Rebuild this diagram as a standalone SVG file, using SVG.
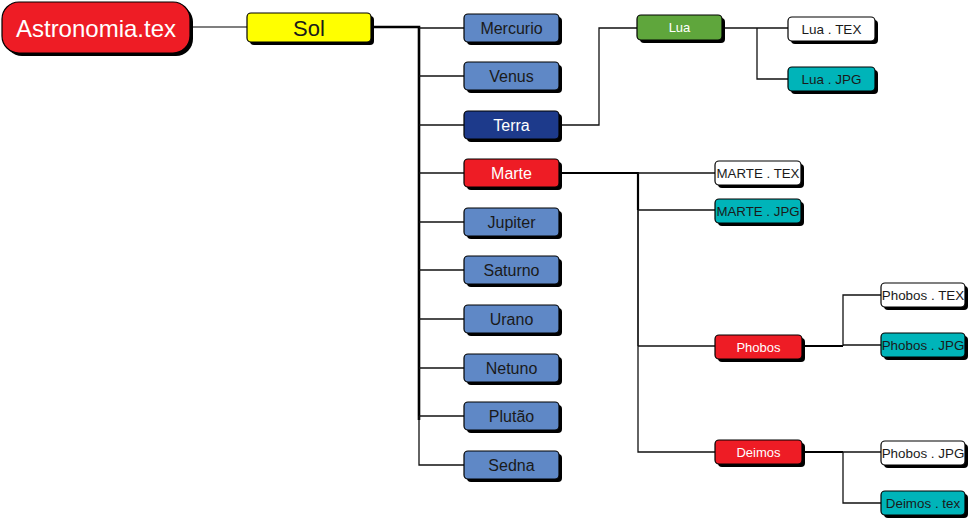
<svg xmlns="http://www.w3.org/2000/svg" width="972" height="520" viewBox="0 0 972 520">
<defs>
<style>
.sh{fill:#000}
.bx{stroke:#000;stroke-width:1.2}
.t{font-family:"Liberation Sans",Arial,sans-serif;text-anchor:middle;dominant-baseline:central}
.dk{fill:#1a1a1a}
.wt{fill:#fff}
.planet{fill:#5f88c6}
.red{fill:#ee1c25}
.teal{fill:#00b4b9}
.white{fill:#fff}
.e{fill:none;stroke:#111;stroke-width:1.3}
.eg{fill:none;stroke:#555;stroke-width:1.3}
.tk{fill:none;stroke:#000;stroke-width:2.6}
</style>
</defs>
<g id="connectors">
<path class="eg" d="M190,27 H247"/>
<path class="tk" d="M371,27 H419 V420"/>
<path class="e" d="M419,28 H464"/>
<path class="e" d="M419,76 H464"/>
<path class="e" d="M419,125 H464"/>
<path class="e" d="M419,173 H464"/>
<path class="e" d="M419,222 H464"/>
<path class="e" d="M419,270 H464"/>
<path class="e" d="M419,319 H464"/>
<path class="e" d="M419,368 H464"/>
<path class="e" d="M419,416 H464"/>
<path class="e" d="M419,416 V465 H464"/>
<path class="e" d="M559,125 H599 V28 H637"/>
<path class="e" d="M722,28 H757 H788"/>
<path class="e" d="M757,28 V79 H788"/>
<path class="tk" style="stroke-width:2.2" d="M559,173 H638 V210"/>
<path class="e" style="stroke-width:1.7" d="M638,210 V346"/>
<path class="e" d="M638,173 H715"/>
<path class="e" d="M638,210 H715"/>
<path class="e" d="M638,346 V452 H715"/>
<path class="e" d="M638,346 H715"/>
<path class="tk" style="stroke-width:2" d="M802,346 H843"/>
<path class="e" d="M843,346 V295 H881"/>
<path class="e" d="M843,345 H881"/>
<path class="tk" style="stroke-width:2" d="M802,452 H843"/>
<path class="e" d="M843,452 H881"/>
<path class="e" d="M843,452 V503 H881"/>
</g>
<g id="astronomia">
<rect class="sh" x="5" y="5" width="188" height="51" rx="17"/>
<rect class="bx red" x="2" y="2" width="188" height="51" rx="17"/>
<text class="t wt" x="96" y="28" font-size="24">Astronomia.tex</text>
</g>
<g id="sol">
<rect class="sh" x="250" y="16" width="124" height="29" rx="4"/>
<rect class="bx" fill="#ffff00" x="247" y="13" width="124" height="29" rx="4"/>
<text class="t dk" x="309" y="28" font-size="22">Sol</text>
</g>
<g id="mercurio">
<rect class="sh" x="467" y="17" width="95" height="28" rx="4"/>
<rect class="bx planet" x="464" y="14" width="95" height="28" rx="4"/>
<text class="t dk" x="511.5" y="28" font-size="16">Mercurio</text>
</g>
<g id="venus">
<rect class="sh" x="467" y="65" width="95" height="28" rx="4"/>
<rect class="bx planet" x="464" y="62" width="95" height="28" rx="4"/>
<text class="t dk" x="511.5" y="76" font-size="16">Venus</text>
</g>
<g id="terra">
<rect class="sh" x="467" y="114" width="95" height="28" rx="4"/>
<rect class="bx" fill="#1d3a8b" x="464" y="111" width="95" height="28" rx="4"/>
<text class="t wt" x="511.5" y="125" font-size="16">Terra</text>
</g>
<g id="marte">
<rect class="sh" x="467" y="162" width="95" height="28" rx="4"/>
<rect class="bx red" x="464" y="159" width="95" height="28" rx="4"/>
<text class="t wt" x="511.5" y="173" font-size="16">Marte</text>
</g>
<g id="jupiter">
<rect class="sh" x="467" y="211" width="95" height="28" rx="4"/>
<rect class="bx planet" x="464" y="208" width="95" height="28" rx="4"/>
<text class="t dk" x="511.5" y="222" font-size="16">Jupiter</text>
</g>
<g id="saturno">
<rect class="sh" x="467" y="259" width="95" height="28" rx="4"/>
<rect class="bx planet" x="464" y="256" width="95" height="28" rx="4"/>
<text class="t dk" x="511.5" y="270" font-size="16">Saturno</text>
</g>
<g id="urano">
<rect class="sh" x="467" y="308" width="95" height="28" rx="4"/>
<rect class="bx planet" x="464" y="305" width="95" height="28" rx="4"/>
<text class="t dk" x="511.5" y="319" font-size="16">Urano</text>
</g>
<g id="netuno">
<rect class="sh" x="467" y="357" width="95" height="28" rx="4"/>
<rect class="bx planet" x="464" y="354" width="95" height="28" rx="4"/>
<text class="t dk" x="511.5" y="368" font-size="16">Netuno</text>
</g>
<g id="plutao">
<rect class="sh" x="467" y="405" width="95" height="28" rx="4"/>
<rect class="bx planet" x="464" y="402" width="95" height="28" rx="4"/>
<text class="t dk" x="511.5" y="416" font-size="16">Plutão</text>
</g>
<g id="sedna">
<rect class="sh" x="467" y="454" width="95" height="28" rx="4"/>
<rect class="bx planet" x="464" y="451" width="95" height="28" rx="4"/>
<text class="t dk" x="511.5" y="465" font-size="16">Sedna</text>
</g>
<g id="lua">
<rect class="sh" x="640" y="18" width="85" height="25" rx="4"/>
<rect class="bx" fill="#5fa63c" x="637" y="15" width="85" height="25" rx="4"/>
<text class="t wt" x="679.5" y="27.5" font-size="13">Lua</text>
</g>
<g id="lua-tex">
<rect class="sh" x="791" y="20" width="87" height="24" rx="4"/>
<rect class="bx white" x="788" y="17" width="87" height="24" rx="4"/>
<text class="t dk" x="831.5" y="29" font-size="13.5">Lua . TEX</text>
</g>
<g id="lua-jpg">
<rect class="sh" x="791" y="70" width="87" height="24" rx="4"/>
<rect class="bx teal" x="788" y="67" width="87" height="24" rx="4"/>
<text class="t dk" x="831.5" y="79" font-size="13.5">Lua . JPG</text>
</g>
<g id="marte-tex">
<rect class="sh" x="718" y="164" width="86" height="24" rx="4"/>
<rect class="bx white" x="715" y="161" width="86" height="24" rx="4"/>
<text class="t dk" x="758" y="173" font-size="13.3">MARTE . TEX</text>
</g>
<g id="marte-jpg">
<rect class="sh" x="718" y="202" width="86" height="24" rx="4"/>
<rect class="bx teal" x="715" y="199" width="86" height="24" rx="4"/>
<text class="t dk" x="758" y="211" font-size="13.3">MARTE . JPG</text>
</g>
<g id="phobos">
<rect class="sh" x="718" y="338" width="87" height="24" rx="4"/>
<rect class="bx red" x="715" y="335" width="87" height="24" rx="4"/>
<text class="t wt" x="758.5" y="347" font-size="13">Phobos</text>
</g>
<g id="deimos">
<rect class="sh" x="718" y="443" width="87" height="24" rx="4"/>
<rect class="bx red" x="715" y="440" width="87" height="24" rx="4"/>
<text class="t wt" x="758.5" y="452" font-size="13">Deimos</text>
</g>
<g id="phobos-tex">
<rect class="sh" x="884" y="286" width="84" height="24" rx="4"/>
<rect class="bx white" x="881" y="283" width="84" height="24" rx="4"/>
<text class="t dk" x="923" y="295" font-size="13.4">Phobos . TEX</text>
</g>
<g id="phobos-jpg">
<rect class="sh" x="884" y="336" width="84" height="24" rx="4"/>
<rect class="bx teal" x="881" y="333" width="84" height="24" rx="4"/>
<text class="t dk" x="923" y="345" font-size="13.4">Phobos . JPG</text>
</g>
<g id="deimos-phobos-jpg">
<rect class="sh" x="884" y="444" width="84" height="24" rx="4"/>
<rect class="bx white" x="881" y="441" width="84" height="24" rx="4"/>
<text class="t dk" x="923" y="453" font-size="13.4">Phobos . JPG</text>
</g>
<g id="deimos-tex">
<rect class="sh" x="884" y="494" width="84" height="24" rx="4"/>
<rect class="bx teal" x="881" y="491" width="84" height="24" rx="4"/>
<text class="t dk" x="923" y="503" font-size="13.4">Deimos . tex</text>
</g>
</svg>
